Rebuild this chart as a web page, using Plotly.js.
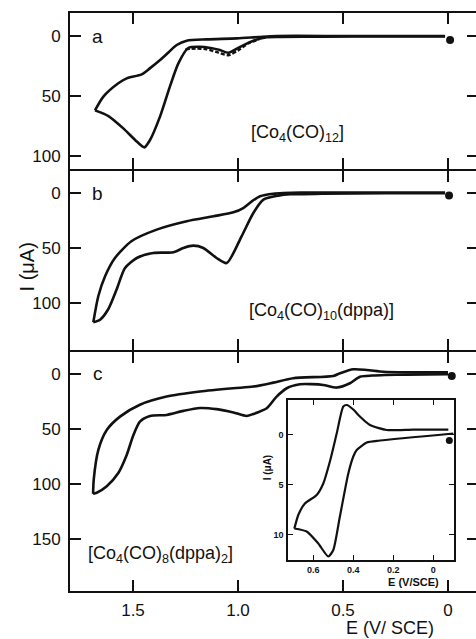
<!DOCTYPE html>
<html><head><meta charset="utf-8">
<script src="https://cdn.plot.ly/plotly-3.0.1.min.js"></script>
<style>html,body{margin:0;padding:0;overflow:hidden;background:#fff}</style>
</head><body><div id="chart" style="width:480px;height:639px"></div>
<script>
// ---- Data (E in V/SCE, I in µA; positive current drawn downward) ----
const xTickVals = [1.5, 1.0, 0.5, 0];
const xTickText = ["1.5", "1.0", "0.5", "0"];
const yTicksAB = [0, 50, 100];
const yTicksC = [0, 50, 100, 150];
const insetXTickVals = [0.6, 0.4, 0.2, 0];
const insetXTickText = ["0.6", "0.4", "0.2", "0"];
const insetYTicks = [0, 5, 10];

// Panel a: [Co4(CO)12]
const aLowerE = [0.014, 0.3, 0.6, 0.8, 0.863, 0.927, 0.99, 1.046, 1.086, 1.13, 1.181, 1.237, 1.284, 1.324, 1.371, 1.419, 1.446, 1.482, 1.546, 1.617, 1.681];
const aLowerI = [0.3, 0.3, 0.5, 0.8, 1.1, 3.9, 9, 14, 11.7, 10, 9, 10, 22.8, 42, 67, 86.7, 92.8, 88, 77, 66.7, 62];
const aUpperE = [1.681, 1.641, 1.57, 1.53, 1.459, 1.42, 1.371, 1.33, 1.292, 1.244, 1.15, 1.006, 0.9, 0.816, 0.5, 0.2, 0.014];
const aUpperI = [62, 50.5, 39.4, 35.3, 32, 27, 20, 13.5, 7.5, 3.9, 2.8, 2, 0.8, 0, 0, 0, 0];
const aDashE = [1.25, 1.2, 1.15, 1.1, 1.046, 1.0, 0.95, 0.9];
const aDashI = [11, 10.5, 11, 13.5, 16, 12, 6, 3];
const aDotE = [-0.01];
const aDotI = [3.3];

// Panel b: [Co4(CO)10(dppa)]
const bLowerE = [0.014, 0.3, 0.6, 0.75, 0.808, 0.879, 0.927, 0.983, 1.054, 1.102, 1.165, 1.213, 1.26, 1.308, 1.403, 1.482, 1.538, 1.578, 1.618, 1.657, 1.689];
const bLowerI = [0.5, 0.5, 1, 1.5, 2.7, 6.4, 18.5, 39.7, 64, 59.4, 50.3, 48.2, 50.3, 54.2, 54.8, 59.4, 68.5, 88, 106, 115.5, 117.9];
const bUpperE = [1.689, 1.665, 1.633, 1.586, 1.506, 1.387, 1.244, 1.117, 1.022, 0.975, 0.935, 0.895, 0.832, 0.7, 0.4, 0.014];
const bUpperI = [117.9, 94, 76, 59.4, 44, 33.6, 26, 21.5, 17.9, 14, 8, 3.3, 1, 0, 0, 0];
const bDotE = [-0.005];
const bDotI = [2.7];

// Panel c: [Co4(CO)8(dppa)2]
const cLowerE = [0.0, 0.2, 0.3, 0.36, 0.419, 0.467, 0.53, 0.594, 0.65, 0.705, 0.768, 0.816, 0.863, 0.927, 0.959, 1.022, 1.102, 1.181, 1.26, 1.34, 1.419, 1.467, 1.498, 1.53, 1.57, 1.625, 1.673, 1.69];
const cLowerI = [0.3, 0.6, 1, 1.5, 2.5, 8.5, 12.4, 10, 9.3, 9.4, 13, 20.6, 31.2, 36.4, 38.2, 35, 32, 31, 33.6, 37.3, 38.2, 43.3, 55.5, 73.6, 90, 102, 108, 109];
const cUpperE = [1.69, 1.687, 1.665, 1.625, 1.562, 1.467, 1.34, 1.181, 1.022, 0.927, 0.832, 0.737, 0.546, 0.514, 0.451, 0.387, 0.308, 0.2, 0.0];
const cUpperI = [109, 96, 69, 51, 38.8, 28, 20.6, 16, 13, 11.5, 7.9, 3.9, 1.8, -0.6, -4.2, -3.6, -2, -1.5, -1.5];
const cDotE = [-0.018];
const cDotI = [1.8];

// Inset (panel c, small potential window)
const insUpperE = [-0.075, 0.1, 0.233, 0.317, 0.367, 0.40, 0.433, 0.45, 0.483, 0.517, 0.55, 0.583, 0.642, 0.675, 0.692, 0.695];
const insUpperI = [-0.5, -0.5, -0.45, -0.95, -1.8, -2.5, -2.95, -2.8, -0.1, 2.7, 4.9, 6.05, 6.9, 8.05, 9.2, 9.4];
const insLowerE = [0.695, 0.633, 0.575, 0.525, 0.5, 0.467, 0.425, 0.4, 0.383, 0.333, 0.267, -0.1];
const insLowerI = [9.4, 9.7, 10.9, 12.2, 11.55, 8.2, 3.9, 2.2, 1.55, 0.8, 0.6, -0.1];
const insDotE = [-0.08];
const insDotI = [0.6];

// ---- Drawing ----
const INK = '#111';
const FONT = 'Liberation Sans, Arial, sans-serif';
function line(x, y, xa, ya, extra) {
  return Object.assign({x: x, y: y, xaxis: xa, yaxis: ya, mode: 'lines', type: 'scatter',
    line: {color: INK, width: 2.6, shape: 'spline', smoothing: 0.7}, hoverinfo: 'skip', showlegend: false}, extra || {});
}
function dot(x, y, xa, ya, size) {
  return {x: x, y: y, xaxis: xa, yaxis: ya, mode: 'markers', type: 'scatter',
    marker: {color: INK, size: size}, hoverinfo: 'skip', showlegend: false};
}
const traces = [
  line(aLowerE, aLowerI, 'x', 'y'),
  line(aUpperE, aUpperI, 'x', 'y'),
  line(aDashE, aDashI, 'x', 'y', {line: {color: INK, width: 2.4, dash: '4px,2px', shape: 'spline', smoothing: 0.7}}),
  dot(aDotE, aDotI, 'x', 'y', 8),
  line(bLowerE, bLowerI, 'x2', 'y2'),
  line(bUpperE, bUpperI, 'x2', 'y2'),
  dot(bDotE, bDotI, 'x2', 'y2', 8),
  line(cLowerE, cLowerI, 'x3', 'y3'),
  line(cUpperE, cUpperI, 'x3', 'y3'),
  dot(cDotE, cDotI, 'x3', 'y3', 8),
  line(insUpperE, insUpperI, 'x4', 'y4', {line: {color: INK, width: 2.2, shape: 'spline', smoothing: 0.6}}),
  line(insLowerE, insLowerI, 'x4', 'y4', {line: {color: INK, width: 2.2, shape: 'spline', smoothing: 0.6}}),
  dot(insDotE, insDotI, 'x4', 'y4', 7)
];

const tickFont = {family: FONT, size: 17, color: INK};
const xBase = {domain: [0, 1], range: [1.8, -0.1429], tickmode: 'array', tickvals: xTickVals, ticktext: xTickText,
  ticks: 'inside', ticklen: 11, tickwidth: 2, tickcolor: INK, showline: true, linewidth: 2, linecolor: INK,
  mirror: 'ticks', showgrid: false, zeroline: false, fixedrange: true, tickfont: tickFont};
const yBase = {tickmode: 'array', ticks: 'inside', ticklen: 11, tickwidth: 2, tickcolor: INK,
  showline: true, linewidth: 2, linecolor: INK, mirror: 'ticks', showgrid: false, zeroline: false,
  fixedrange: true, tickfont: tickFont, ticklabelstandoff: 4};
const insFont = {family: FONT, size: 9, color: INK, weight: 'bold'};
const px = 1 / 578; // one pixel of the stacked plot height, so shared frame lines coincide

const layout = {
  width: 480, height: 639,
  margin: {l: 70, r: 2, t: 13, b: 48},
  paper_bgcolor: '#fff', plot_bgcolor: 'rgba(0,0,0,0)',
  showlegend: false,
  font: {family: FONT, color: INK},
  xaxis: Object.assign({}, xBase, {anchor: 'y', showticklabels: false}),
  xaxis2: Object.assign({}, xBase, {anchor: 'y2', showticklabels: false}),
  xaxis3: Object.assign({}, xBase, {anchor: 'y3', showticklabels: true, ticklabelstandoff: 3}),
  yaxis: Object.assign({}, yBase, {anchor: 'x', domain: [0.7284 + px, 1], range: [110.83, -19.17], tickvals: yTicksAB}),
  yaxis2: Object.assign({}, yBase, {anchor: 'x2', domain: [0.4144 + px, 0.7284 - px], range: [143.5, -19.7], tickvals: yTicksAB}),
  yaxis3: Object.assign({}, yBase, {anchor: 'x3', domain: [0, 0.4144 - px], range: [197.3, -19.5], tickvals: yTicksC}),
  xaxis4: {anchor: 'y4', domain: [0.535, 0.941], range: [0.725, -0.103], tickmode: 'array',
    tickvals: insetXTickVals, ticktext: insetXTickText, ticks: 'inside', ticklen: 5, tickwidth: 1.5, tickcolor: INK,
    showline: true, linewidth: 2, linecolor: INK, mirror: 'ticks', showgrid: false, zeroline: false,
    fixedrange: true, tickfont: insFont, ticklabelstandoff: 0},
  yaxis4: {anchor: 'x4', domain: [0.0536, 0.3304], range: [12.55, -3.45], tickmode: 'array',
    tickvals: insetYTicks, ticks: 'inside', ticklen: 5, tickwidth: 1.5, tickcolor: INK,
    showline: true, linewidth: 2, linecolor: INK, mirror: 'ticks', showgrid: false, zeroline: false,
    fixedrange: true, tickfont: insFont, ticklabelstandoff: 1},
  annotations: [
    {text: 'a', xref: 'x', yref: 'y', x: 1.667, y: 0, showarrow: false, font: {family: FONT, size: 19, color: INK}},
    {text: 'b', xref: 'x2', yref: 'y2', x: 1.667, y: 1, showarrow: false, font: {family: FONT, size: 19, color: INK}},
    {text: 'c', xref: 'x3', yref: 'y3', x: 1.667, y: 0, showarrow: false, font: {family: FONT, size: 19, color: INK}},
    {text: '[Co<sub>4</sub>(CO)<sub>12</sub>]', xref: 'x', yref: 'y', x: 0.719, y: 81, showarrow: false,
      font: {family: FONT, size: 18, color: INK}},
    {text: '[Co<sub>4</sub>(CO)<sub>10</sub>(dppa)]', xref: 'x2', yref: 'y2', x: 0.6, y: 108, showarrow: false,
      font: {family: FONT, size: 18, color: INK}},
    {text: '[Co<sub>4</sub>(CO)<sub>8</sub>(dppa)<sub>2</sub>]', xref: 'x3', yref: 'y3', x: 1.367, y: 164.5, showarrow: false,
      font: {family: FONT, size: 18, color: INK}},
    {text: 'I (μA)', xref: 'paper', yref: 'paper', x: -0.105, y: 0.56, xanchor: 'center', yanchor: 'middle',
      textangle: -90, showarrow: false, font: {family: FONT, size: 20, color: INK}},
    {text: 'E (V/ SCE)', xref: 'paper', yref: 'paper', x: 0.784, y: -0.064, xanchor: 'center', yanchor: 'middle',
      showarrow: false, font: {family: FONT, size: 18, color: INK}},
    {text: 'I (μA)', xref: 'paper', yref: 'paper', x: 0.483, y: 0.214, xanchor: 'center', yanchor: 'middle',
      textangle: -90, showarrow: false, font: {family: FONT, size: 10, color: INK, weight: 'bold'}},
    {text: 'E (V/SCE)', xref: 'paper', yref: 'paper', x: 0.842, y: 0.0155, xanchor: 'center', yanchor: 'middle',
      showarrow: false, font: {family: FONT, size: 11, color: INK, weight: 'bold'}}
  ]
};
Plotly.newPlot('chart', traces, layout, {staticPlot: true, displayModeBar: false});
</script></body></html>
